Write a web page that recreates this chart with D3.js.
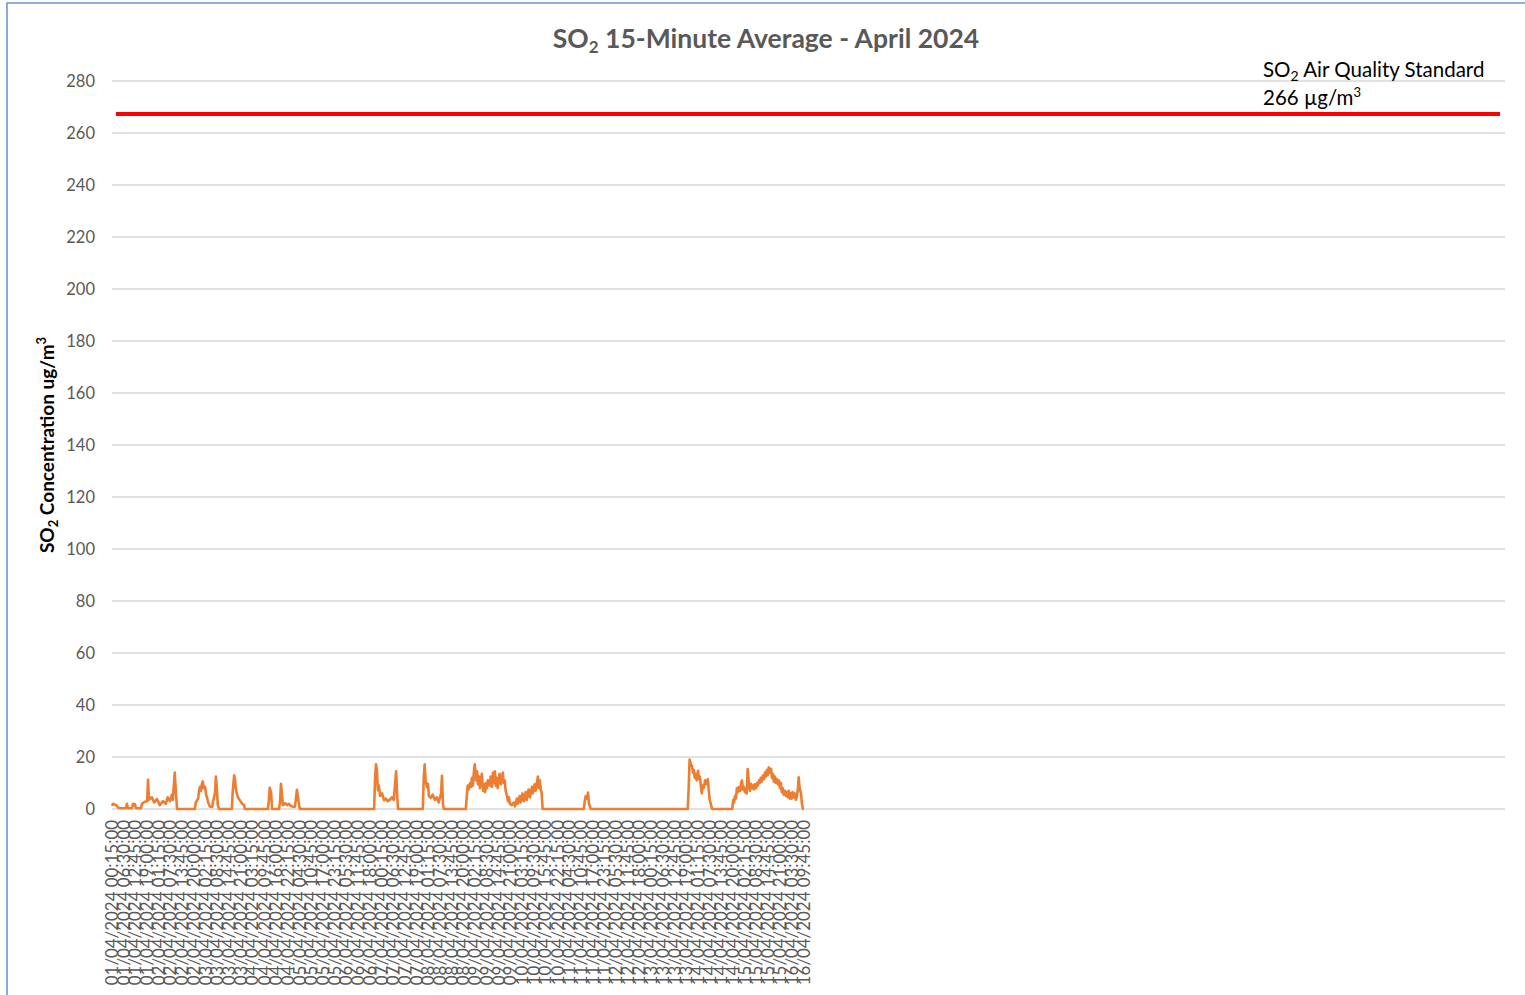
<!DOCTYPE html>
<html>
<head>
<meta charset="utf-8">
<script src="https://cdn.jsdelivr.net/npm/d3@7"></script>
<style>
    body { margin: 0; background: #fff; }
    #chart-area svg { display: block; }
    .title { font-family: Lato, sans-serif; font-weight: bold; font-size: 26.5px; fill: #595959; }
    .y-axis text { font-family: Lato, sans-serif; font-size: 16.5px; fill: #595959; }
    .x-label { font-family: Lato, sans-serif; font-size: 16.9px; fill: #595959; }
    .axis-label { font-family: Lato, sans-serif; font-weight: bold; font-size: 19px; fill: #000; }
    .std-label { font-family: Lato, sans-serif; font-size: 20.5px; fill: #000; }
    .grid line { stroke: #d9d9d9; stroke-width: 1.3px; }
    .line { fill: none; stroke: #ed7d31; stroke-width: 2.6px; stroke-linejoin: round; }
    .std-line { stroke: #ff0000; stroke-width: 4px; }
</style>
</head>
<body>
<div id="chart-area"></div>
<script>

var yTickValues = [0, 20, 40, 60, 80, 100, 120, 140, 160, 180, 200, 220, 240, 260, 280];

var standardValue = 266;
// the red line sits a little above 266 on the original chart
var standardLineLevel = 267.3;

// category axis runs 31 days of 15-minute rows, only the first half has data
var axisStart = "01/04/2024 00:15:00";
var axisEnd = "02/05/2024 00:15:00";

var tickLabels = [
    "01/04/2024 00:15:00", "01/04/2024 06:30:00", "01/04/2024 12:45:00", "01/04/2024 19:00:00",
    "02/04/2024 01:15:00", "02/04/2024 07:30:00", "02/04/2024 13:45:00", "02/04/2024 20:00:00",
    "03/04/2024 02:15:00", "03/04/2024 08:30:00", "03/04/2024 14:45:00", "03/04/2024 21:00:00",
    "04/04/2024 03:15:00", "04/04/2024 09:45:00", "04/04/2024 16:00:00", "04/04/2024 22:15:00",
    "05/04/2024 04:30:00", "05/04/2024 10:45:00", "05/04/2024 17:00:00", "05/04/2024 23:15:00",
    "06/04/2024 05:30:00", "06/04/2024 11:45:00", "06/04/2024 18:00:00", "07/04/2024 00:15:00",
    "07/04/2024 06:30:00", "07/04/2024 12:45:00", "07/04/2024 19:00:00", "08/04/2024 01:15:00",
    "08/04/2024 07:30:00", "08/04/2024 13:45:00", "08/04/2024 20:00:00", "09/04/2024 02:15:00",
    "09/04/2024 08:30:00", "09/04/2024 14:45:00", "09/04/2024 21:00:00", "10/04/2024 03:15:00",
    "10/04/2024 09:30:00", "10/04/2024 15:45:00", "10/04/2024 22:15:00", "11/04/2024 04:30:00",
    "11/04/2024 10:45:00", "11/04/2024 17:00:00", "11/04/2024 23:15:00", "12/04/2024 05:30:00",
    "12/04/2024 11:45:00", "12/04/2024 18:00:00", "13/04/2024 00:15:00", "13/04/2024 06:30:00",
    "13/04/2024 12:45:00", "13/04/2024 19:00:00", "14/04/2024 01:15:00", "14/04/2024 07:30:00",
    "14/04/2024 13:45:00", "14/04/2024 20:00:00", "15/04/2024 02:15:00", "15/04/2024 08:30:00",
    "15/04/2024 14:45:00", "15/04/2024 21:00:00", "16/04/2024 03:30:00", "16/04/2024 09:45:00"
];

// [time (dd/mm hh:mm), SO2 ug/m3]
var so2Readings = [
    ["01/04 00:15", 1.2], ["01/04 00:45", 2.0], ["01/04 02:30", 1.5], ["01/04 03:30", 0.5],
    ["01/04 05:30", 0.3], ["01/04 07:45", 0.4], ["01/04 08:15", 2.0], ["01/04 08:45", 0.3],
    ["01/04 11:00", 0.4], ["01/04 11:30", 2.0], ["01/04 12:30", 1.8], ["01/04 13:00", 0.3],
    ["01/04 15:45", 0.3], ["01/04 16:15", 2.0], ["01/04 17:45", 2.8], ["01/04 19:00", 3.0],
    ["01/04 19:30", 11.2], ["01/04 20:00", 3.5], ["01/04 21:30", 4.5], ["01/04 22:45", 2.5],
    ["02/04 00:15", 3.8], ["02/04 01:45", 1.5], ["02/04 03:30", 3.0], ["02/04 05:00", 2.0],
    ["02/04 06:00", 4.5], ["02/04 07:15", 3.0], ["02/04 08:15", 5.5], ["02/04 08:45", 3.5],
    ["02/04 09:45", 14.0], ["02/04 10:30", 5.0], ["02/04 11:00", 0], ["02/04 20:30", 0],
    ["02/04 21:00", 2.5], ["02/04 22:15", 4.0], ["02/04 22:45", 7.0], ["02/04 23:15", 8.5],
    ["02/04 23:45", 7.0], ["03/04 00:15", 9.5], ["03/04 00:45", 10.6], ["03/04 01:15", 8.0],
    ["03/04 02:00", 8.5], ["03/04 02:30", 5.5], ["03/04 03:00", 4.5], ["03/04 03:30", 2.8],
    ["03/04 04:30", 1.0], ["03/04 05:45", 0.8], ["03/04 06:15", 3.0], ["03/04 07:15", 6.0],
    ["03/04 07:45", 12.5], ["03/04 08:15", 8.0], ["03/04 08:45", 1.5], ["03/04 09:30", 0],
    ["03/04 16:15", 0], ["03/04 16:45", 7.0], ["03/04 17:30", 13.0], ["03/04 18:00", 11.0],
    ["03/04 18:30", 7.0], ["03/04 19:30", 4.5], ["03/04 20:30", 3.4], ["03/04 21:45", 2.0],
    ["03/04 22:45", 1.5], ["03/04 23:15", 0], ["04/04 11:30", 0], ["04/04 12:00", 3.0],
    ["04/04 12:30", 8.2], ["04/04 13:15", 6.0], ["04/04 13:45", 0], ["04/04 17:30", 0],
    ["04/04 18:00", 3.0], ["04/04 18:30", 9.7], ["04/04 19:00", 6.0], ["04/04 19:30", 1.5],
    ["04/04 20:45", 2.2], ["04/04 21:45", 1.5], ["04/04 22:45", 2.0], ["04/04 23:45", 1.2],
    ["05/04 01:00", 0.8], ["05/04 02:00", 1.0], ["05/04 02:30", 4.0], ["05/04 03:00", 7.4],
    ["05/04 03:30", 5.0], ["05/04 04:15", 1.0], ["05/04 04:45", 0], ["06/04 20:15", 0],
    ["06/04 20:45", 12.0], ["06/04 21:15", 17.2], ["06/04 21:45", 15.0], ["06/04 22:15", 7.2],
    ["06/04 22:45", 9.0], ["06/04 23:30", 5.0], ["07/04 00:30", 6.0], ["07/04 01:30", 3.4],
    ["07/04 02:30", 4.0], ["07/04 03:30", 3.0], ["07/04 04:45", 3.6], ["07/04 05:45", 4.5],
    ["07/04 06:45", 3.5], ["07/04 07:15", 8.0], ["07/04 08:00", 14.5], ["07/04 08:30", 6.0],
    ["07/04 09:00", 0], ["07/04 22:15", 0], ["07/04 22:45", 12.0], ["07/04 23:15", 17.2],
    ["07/04 23:45", 11.0], ["08/04 00:30", 8.4], ["08/04 01:00", 9.7], ["08/04 01:30", 5.0],
    ["08/04 02:30", 4.3], ["08/04 03:30", 5.5], ["08/04 04:45", 3.5], ["08/04 05:45", 4.5],
    ["08/04 06:45", 2.5], ["08/04 08:00", 6.0], ["08/04 08:30", 12.8], ["08/04 09:00", 2.0],
    ["08/04 09:30", 0], ["08/04 21:15", 0], ["08/04 21:45", 5.0], ["08/04 22:15", 9.0],
    ["08/04 22:45", 7.5], ["08/04 23:30", 10.0], ["09/04 00:00", 8.5], ["09/04 00:30", 12.0],
    ["09/04 01:00", 9.0], ["09/04 01:30", 14.0], ["09/04 02:00", 17.2], ["09/04 02:45", 11.0],
    ["09/04 03:15", 14.5], ["09/04 03:45", 9.5], ["09/04 04:15", 12.5], ["09/04 04:45", 8.0],
    ["09/04 05:15", 11.0], ["09/04 05:45", 13.5], ["09/04 06:30", 7.0], ["09/04 07:00", 9.5],
    ["09/04 07:30", 6.5], ["09/04 08:00", 10.0], ["09/04 08:30", 8.0], ["09/04 09:00", 11.0],
    ["09/04 10:00", 9.0], ["09/04 10:30", 12.5], ["09/04 11:15", 8.5], ["09/04 11:45", 14.0],
    ["09/04 12:15", 10.0], ["09/04 12:45", 14.5], ["09/04 13:15", 9.0], ["09/04 13:45", 12.0],
    ["09/04 14:15", 8.0], ["09/04 14:45", 11.0], ["09/04 15:15", 13.5], ["09/04 16:00", 9.5],
    ["09/04 16:30", 12.0], ["09/04 17:00", 14.0], ["09/04 17:30", 10.0], ["09/04 18:00", 11.0],
    ["09/04 18:30", 7.0], ["09/04 19:15", 5.0], ["09/04 19:45", 3.0], ["09/04 20:15", 4.5],
    ["09/04 20:45", 2.0], ["09/04 21:45", 1.5], ["09/04 22:45", 2.5], ["09/04 23:30", 1.0],
    ["10/04 00:30", 4.0], ["10/04 01:00", 2.0], ["10/04 02:00", 5.0], ["10/04 02:30", 2.5],
    ["10/04 03:30", 6.0], ["10/04 04:15", 3.0], ["10/04 05:15", 6.5], ["10/04 05:45", 3.5],
    ["10/04 06:45", 7.5], ["10/04 07:30", 4.5], ["10/04 08:30", 8.5], ["10/04 09:00", 6.0],
    ["10/04 10:00", 9.5], ["10/04 10:30", 7.0], ["10/04 11:45", 12.5], ["10/04 12:15", 8.0],
    ["10/04 12:45", 11.0], ["10/04 13:15", 7.5], ["10/04 13:45", 6.0], ["10/04 14:15", 0],
    ["11/04 12:15", 0], ["11/04 12:45", 3.0], ["11/04 13:15", 5.0], ["11/04 14:00", 4.0],
    ["11/04 14:30", 6.3], ["11/04 15:00", 2.0], ["11/04 15:30", 1.0], ["11/04 16:00", 0],
    ["13/04 19:45", 0], ["13/04 20:15", 8.0], ["13/04 20:45", 19.0], ["13/04 21:30", 17.0],
    ["13/04 22:00", 16.6], ["13/04 22:30", 14.0], ["13/04 23:00", 15.0], ["13/04 23:30", 12.0],
    ["14/04 00:00", 13.5], ["14/04 00:30", 11.0], ["14/04 01:15", 14.7], ["14/04 01:45", 11.5],
    ["14/04 02:15", 12.5], ["14/04 02:45", 9.0], ["14/04 03:15", 6.0], ["14/04 03:45", 9.0],
    ["14/04 04:15", 8.0], ["14/04 05:00", 11.0], ["14/04 05:30", 9.5], ["14/04 06:00", 10.5],
    ["14/04 06:30", 11.5], ["14/04 07:00", 7.0], ["14/04 07:30", 3.4], ["14/04 08:15", 1.5],
    ["14/04 08:45", 0], ["14/04 19:30", 0], ["14/04 20:00", 3.4], ["14/04 20:30", 2.5],
    ["14/04 21:00", 5.0], ["14/04 21:30", 4.0], ["14/04 22:00", 8.0], ["14/04 22:30", 6.5],
    ["14/04 23:00", 8.4], ["14/04 23:45", 7.0], ["15/04 00:15", 10.0], ["15/04 00:45", 11.0],
    ["15/04 01:15", 7.5], ["15/04 01:45", 8.5], ["15/04 02:15", 6.5], ["15/04 02:45", 7.5],
    ["15/04 03:15", 6.0], ["15/04 03:45", 15.4], ["15/04 04:30", 9.0], ["15/04 05:00", 7.0],
    ["15/04 05:30", 9.7], ["15/04 06:00", 8.0], ["15/04 06:30", 9.0], ["15/04 07:00", 7.5],
    ["15/04 07:30", 9.5], ["15/04 08:15", 8.0], ["15/04 08:45", 10.0], ["15/04 09:15", 9.0],
    ["15/04 09:45", 11.0], ["15/04 10:15", 10.0], ["15/04 10:45", 12.0], ["15/04 11:15", 10.5],
    ["15/04 12:00", 13.0], ["15/04 12:30", 11.5], ["15/04 13:00", 14.0], ["15/04 13:30", 12.5],
    ["15/04 14:00", 15.0], ["15/04 14:30", 13.0], ["15/04 15:00", 16.0], ["15/04 15:45", 14.0],
    ["15/04 16:15", 15.5], ["15/04 16:45", 12.0], ["15/04 17:15", 13.5], ["15/04 17:45", 10.5],
    ["15/04 18:15", 12.5], ["15/04 18:45", 10.0], ["15/04 19:15", 11.5], ["15/04 20:00", 9.5],
    ["15/04 20:30", 11.0], ["15/04 21:00", 8.0], ["15/04 21:30", 10.0], ["15/04 22:00", 6.5],
    ["15/04 22:30", 8.0], ["15/04 23:00", 5.5], ["15/04 23:45", 7.0], ["16/04 00:15", 5.0],
    ["16/04 00:45", 6.5], ["16/04 01:15", 4.5], ["16/04 01:45", 7.0], ["16/04 02:15", 4.0],
    ["16/04 02:45", 6.0], ["16/04 03:15", 4.0], ["16/04 03:45", 6.5], ["16/04 04:30", 4.5],
    ["16/04 05:00", 6.0], ["16/04 05:30", 3.5], ["16/04 06:00", 4.7], ["16/04 06:30", 7.0],
    ["16/04 07:00", 12.2], ["16/04 07:30", 8.0], ["16/04 08:15", 6.0], ["16/04 08:45", 2.0],
    ["16/04 09:15", 0], ["16/04 09:45", 0]
];


var parseLabel = d3.timeParse("%d/%m/%Y %H:%M:%S");
var parseReading = function(s) {
    return d3.timeParse("%d/%m/%Y %H:%M")(s.slice(0, 5) + "/2024" + s.slice(5));
};


So2Chart = function(_parentElement, _data) {
    this.parentElement = _parentElement;
    this.data = _data;

    this.initVis();
};

So2Chart.prototype.initVis = function() {
    var vis = this;

    vis.fullWidth = 1525;
    vis.fullHeight = 995;
    vis.margin = { top: 81, right: 20, bottom: 186, left: 112 };

    vis.width = vis.fullWidth - vis.margin.left - vis.margin.right;
    vis.height = vis.fullHeight - vis.margin.top - vis.margin.bottom;

    vis.root = d3.select('#' + vis.parentElement)
        .append('svg')
        .attr('width', vis.fullWidth)
        .attr('height', vis.fullHeight);

    // chart area border (only left and top fall inside the picture)
    vis.root.append('path')
        .attr('d', "M7," + vis.fullHeight + "V3H" + vis.fullWidth)
        .attr('fill', 'none')
        .attr('stroke', '#7097cf')
        .attr('stroke-width', 1.6);

    vis.svg = vis.root.append('g')
        .attr('transform', "translate(" + vis.margin.left + "," + vis.margin.top + ")");

    vis.x = d3.scaleTime()
        .domain([parseLabel(axisStart), parseLabel(axisEnd)])
        .range([0, vis.width]);

    vis.y = d3.scaleLinear()
        .domain([0, 280])
        .range([vis.height, 0]);

    vis.yAxis = d3.axisLeft(vis.y)
        .tickValues(yTickValues)
        .tickSize(0)
        .tickPadding(17);

    vis.svg.append('g')
        .attr('class', 'grid')
        .selectAll('line')
        .data(yTickValues)
        .enter()
        .append('line')
        .attr('x1', 0)
        .attr('x2', vis.width)
        .attr('y1', function(d) { return vis.y(d); })
        .attr('y2', function(d) { return vis.y(d); });

    vis.svg.append('g')
        .attr('class', 'y-axis axis')
        .call(vis.yAxis)
        .select('.domain').remove();

    // title
    var title = vis.root.append('text')
        .attr('class', 'title')
        .attr('x', 7 + (vis.fullWidth - 7) / 2)
        .attr('y', 48)
        .attr('text-anchor', 'middle');
    title.append('tspan').text('SO');
    title.append('tspan').attr('font-size', '17px').attr('dy', 5).text('2');
    title.append('tspan').attr('dy', -5).text(' 15-Minute Average - April 2024');

    // y axis title
    var yTitle = vis.root.append('text')
        .attr('class', 'axis-label')
        .attr('text-anchor', 'middle')
        .attr('transform', "translate(54,445)rotate(-90)");
    yTitle.append('tspan').text('SO');
    yTitle.append('tspan').attr('font-size', '13px').attr('dy', 4).text('2');
    yTitle.append('tspan').attr('dy', -4).text(' Concentration ug/m');
    yTitle.append('tspan').attr('font-size', '13px').attr('dy', -8).text('3');

    // standard line and its note
    vis.svg.append('line')
        .attr('class', 'std-line')
        .attr('x1', 4)
        .attr('x2', vis.width - 5)
        .attr('y1', vis.y(standardLineLevel))
        .attr('y2', vis.y(standardLineLevel));

    var note1 = vis.svg.append('text')
        .attr('class', 'std-label')
        .attr('x', vis.width - 242)
        .attr('y', vis.y(280) - 4);
    note1.append('tspan').text('SO');
    note1.append('tspan').attr('font-size', '14px').attr('dy', 4).text('2');
    note1.append('tspan').attr('dy', -4).text(' Air Quality Standard');

    var note2 = vis.svg.append('text')
        .attr('class', 'std-label')
        .attr('x', vis.width - 242)
        .attr('y', vis.y(280) + 24);
    note2.append('tspan').text(standardValue + ' \u00b5g/m');
    note2.append('tspan').attr('font-size', '13px').attr('dy', -8).text('3');

    vis.line = d3.line()
        .x(function(d) { return vis.x(d.date); })
        .y(function(d) { return vis.y(d.value); });

    vis.wrangleData();
};

So2Chart.prototype.wrangleData = function() {
    var vis = this;

    vis.displayData = vis.data.map(function(d) {
        return { date: parseReading(d[0]), value: d[1] };
    });

    vis.updateChart();
};

So2Chart.prototype.updateChart = function() {
    var vis = this;

    vis.svg.append('path')
        .datum(vis.displayData)
        .attr('class', 'line')
        .attr('d', vis.line);

    // dense rotated category labels
    vis.svg.selectAll('.x-label')
        .data(tickLabels)
        .enter()
        .append('text')
        .attr('class', 'x-label')
        .attr('text-anchor', 'end')
        .attr('dy', '0.35em')
        .attr('transform', function(d) {
            return "translate(" + vis.x(parseLabel(d)) + "," + (vis.height + 11) + ")rotate(-90)";
        })
        .text(function(d) { return d; });
};

var so2Chart = new So2Chart('chart-area', so2Readings);

</script>
</body>
</html>
